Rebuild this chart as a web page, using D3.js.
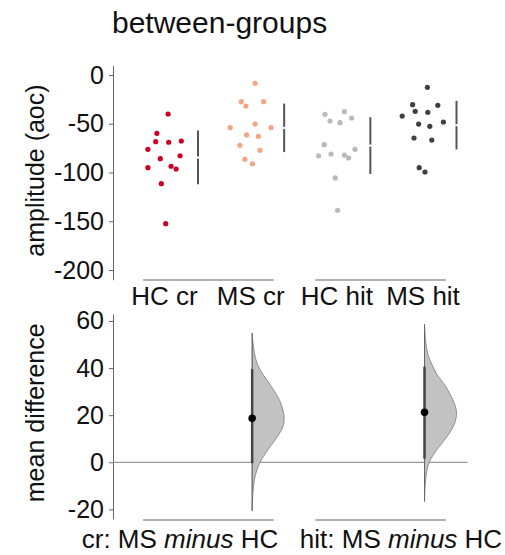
<!DOCTYPE html>
<html>
<head>
<meta charset="utf-8">
<script src="https://cdn.jsdelivr.net/npm/d3@7"></script>
<style>
  body { margin: 0; background: #fff; }
  svg text { font-family: "Liberation Sans", Arial, sans-serif; fill: #111; }
  .axis path, .axis line { stroke: #666; }
</style>
</head>
<body>
<svg width="505" height="555"></svg>
<script>
// groups, in plot order
var groups = ["HC cr", "MS cr", "HC hit", "MS hit"];
var colors = ["#ca0020", "#f4a582", "#bababa", "#404040"];

// amplitude (aoc), one value per subject
var hcCr  = [-40, -59.8, -68.4, -69, -67.7, -76.2, -82.8, -85.8, -95.1, -93.6, -96.4, -111.5, -152.5];
var msCr  = [-8.5, -27.4, -31.8, -27.4, -50.3, -54, -54, -61.5, -62.9, -72.1, -77.3, -86.5, -91];
var hcHit = [-40.3, -37.6, -44.1, -47.2, -48.9, -71.5, -76.2, -82.8, -81, -82.1, -85.1, -105.6, -138.8];
var msHit = [-12.6, -30.4, -31.1, -37.3, -38.3, -42.1, -50.3, -52.6, -48.2, -64.6, -66.7, -95.1, -99.5];

// horizontal jitter of each point, -1..1
var hcCrJit  = [0.18, -0.38, -0.44, 0.21, 0.84, -0.83, 0.78, -0.21, -0.83, 0.33, 0.58, -0.16, 0.06];
var msCrJit  = [0.22, -0.47, -0.24, 0.65, 0.22, -1.02, 1.02, -0.2, 0.39, -0.54, 0.47, -0.29, 0.09];
var hcHitJit = [-0.59, 0.38, 0.74, -0.34, 0.16, -0.63, 0.91, -0.91, -0.29, 0.38, 0.59, -0.08, 0.04];
var msHitJit = [0.22, -0.52, 0.74, -0.39, 0.24, -1.04, -0.22, 0.34, 1.02, -0.45, 0.44, -0.19, 0.1];

var ampTicks = [0, -50, -100, -150, -200];

// mean differences (bootstrap)
var deltaTest = ["MS cr", "MS hit"];
var deltaRef = [["HC cr", "MS cr"], ["HC hit", "MS hit"]];
var deltaName = ["cr", "hit"];
var deltaMean = [18.7, 21.2];
var deltaCiLo = [-0.4, 1.5];
var deltaCiHi = [39.5, 40.6];
var diffTicks = [60, 40, 20, 0, -20];

// bootstrap density, value -> relative density
var crKdeV = [54.8, 49.1, 43.4, 39.2, 34.9, 30.7, 26.5, 22.2, 18.7, 15.1, 10.9, 6.6, 2.4, -0.4, -3.3, -6.1, -10.4, -16, -20.6];
var crKdeD = [0, 0.04, 0.12, 0.25, 0.46, 0.67, 0.85, 0.96, 1, 0.96, 0.79, 0.56, 0.35, 0.23, 0.15, 0.09, 0.04, 0.01, 0];
var hitKdeV = [58.6, 51.2, 45.6, 41.3, 37.1, 32.9, 28.6, 24.4, 21.2, 17.2, 13, 8.7, 4.5, 0.3, -2.5, -6.8, -12.5, -16.7];
var hitKdeD = [0, 0.04, 0.11, 0.24, 0.4, 0.63, 0.81, 0.95, 1, 0.96, 0.81, 0.58, 0.34, 0.16, 0.09, 0.04, 0.01, 0];

var values = [hcCr, msCr, hcHit, msHit];
var jitters = [hcCrJit, msCrJit, hcHitJit, msHitJit];
var kdes = [[crKdeV, crKdeD], [hitKdeV, hitKdeD]];

var svg = d3.select("svg");

var x = d3.scalePoint().domain(groups).range([164.5, 423]);
var jit = d3.scaleLinear().domain([-1, 1]).range([-20, 20]);
var y = d3.scaleLinear().domain([-210, 10]).range([279.75, 65.25]);
var yD = d3.scaleLinear().domain([-24, 63]).range([518.8, 313.9]);
var kw = d3.scaleLinear().domain([0, 1]).range([0, 32]);
var axisX = 113;
var plain = function(d) { return String(d); };  // hyphen minus, like the original

svg.append("text")
    .attr("x", 112).attr("y", 33)
    .style("font-size", "30px")
    .text("between-groups");

// ---- top: raw data ----
var yAxis = svg.append("g").attr("class", "axis")
    .attr("transform", "translate(" + axisX + ",0)")
    .call(d3.axisLeft(y).tickValues(ampTicks).tickFormat(plain)
      .tickSize(4).tickSizeOuter(0).tickPadding(5));
yAxis.selectAll("text").style("font-size", "25px");

svg.append("text")
    .attr("transform", "translate(35," + y(-98) + ") rotate(-90)")
    .attr("text-anchor", "middle").attr("dominant-baseline", "central")
    .style("font-size", "25px")
    .text("amplitude (aoc)");

groups.forEach(function(g, i) {
  var pts = values[i].map(function(v, j) { return {v: v, j: jitters[i][j]}; });
  svg.append("g").selectAll("circle")
      .data(pts)
    .enter().append("circle")
      .attr("cx", function(d) { return x(g) + jit(d.j); })
      .attr("cy", function(d) { return y(d.v); })
      .attr("r", 2.6)
      .attr("fill", colors[i]);

  var m = d3.mean(values[i]), sd = d3.deviation(values[i]);
  var lx = x(g) + 33.5;
  svg.append("line")
      .attr("x1", lx).attr("x2", lx)
      .attr("y1", y(m + sd)).attr("y2", y(m) - 1)
      .attr("stroke", "#555").attr("stroke-width", 2);
  svg.append("line")
      .attr("x1", lx).attr("x2", lx)
      .attr("y1", y(m) + 1).attr("y2", y(m - sd))
      .attr("stroke", "#555").attr("stroke-width", 2);

  svg.append("text")
      .attr("x", x(g)).attr("y", 305)
      .attr("text-anchor", "middle")
      .style("font-size", "26px")
      .text(g);
});

deltaRef.forEach(function(pair) {
  svg.append("line")
      .attr("x1", x(pair[0]) - 21.5).attr("x2", x(pair[1]) + 23)
      .attr("y1", 280).attr("y2", 280)
      .attr("stroke", "#999").attr("stroke-width", 1.5);
  svg.append("line")
      .attr("x1", x(pair[0]) - 21.5).attr("x2", x(pair[1]) + 23)
      .attr("y1", 520).attr("y2", 520)
      .attr("stroke", "#999").attr("stroke-width", 1.5);
});

// ---- bottom: mean differences ----
var dAxis = svg.append("g").attr("class", "axis")
    .attr("transform", "translate(" + axisX + ",0)")
    .call(d3.axisLeft(yD).tickValues(diffTicks).tickFormat(plain)
      .tickSize(4).tickSizeOuter(0).tickPadding(5));
dAxis.selectAll("text").style("font-size", "25px");

svg.append("text")
    .attr("transform", "translate(35," + yD(21) + ") rotate(-90)")
    .attr("text-anchor", "middle").attr("dominant-baseline", "central")
    .style("font-size", "25px")
    .text("mean difference");

svg.append("line")
    .attr("x1", axisX).attr("x2", 467.5)
    .attr("y1", yD(0)).attr("y2", yD(0))
    .attr("stroke", "#999").attr("stroke-width", 1.2);

var area = d3.area()
    .curve(d3.curveCatmullRom)
    .y(function(d) { return yD(d[0]); });

deltaTest.forEach(function(g, i) {
  var cx = x(g) + 1.5;
  var kv = kdes[i][0], kd = kdes[i][1];
  var pts = kv.map(function(v, j) { return [v, kd[j]]; });
  area.x0(cx).x1(function(d) { return cx + kw(d[1]); });
  svg.append("path")
      .attr("d", area(pts))
      .attr("fill", "#c2c2c2")
      .attr("stroke", "#7a7a7a").attr("stroke-width", 0.8);

  svg.append("line")
      .attr("x1", cx).attr("x2", cx)
      .attr("y1", yD(d3.max(kv))).attr("y2", yD(d3.min(kv)))
      .attr("stroke", "#666").attr("stroke-width", 1);
  svg.append("line")
      .attr("x1", cx).attr("x2", cx)
      .attr("y1", yD(deltaCiHi[i])).attr("y2", yD(deltaCiLo[i]))
      .attr("stroke", "#444").attr("stroke-width", 2.5);
  svg.append("circle")
      .attr("cx", cx).attr("cy", yD(deltaMean[i]))
      .attr("r", 3.8).attr("fill", "#000");
});

// labels under the difference axis
var dLabelX = [180, 401];
deltaName.forEach(function(n, i) {
  var t = svg.append("text")
      .attr("x", dLabelX[i]).attr("y", 548)
      .attr("text-anchor", "middle")
      .style("font-size", "26px");
  t.append("tspan").text(n + ": MS ");
  t.append("tspan").style("font-style", "italic").text("minus");
  t.append("tspan").text(" HC");
});
</script>
</body>
</html>
